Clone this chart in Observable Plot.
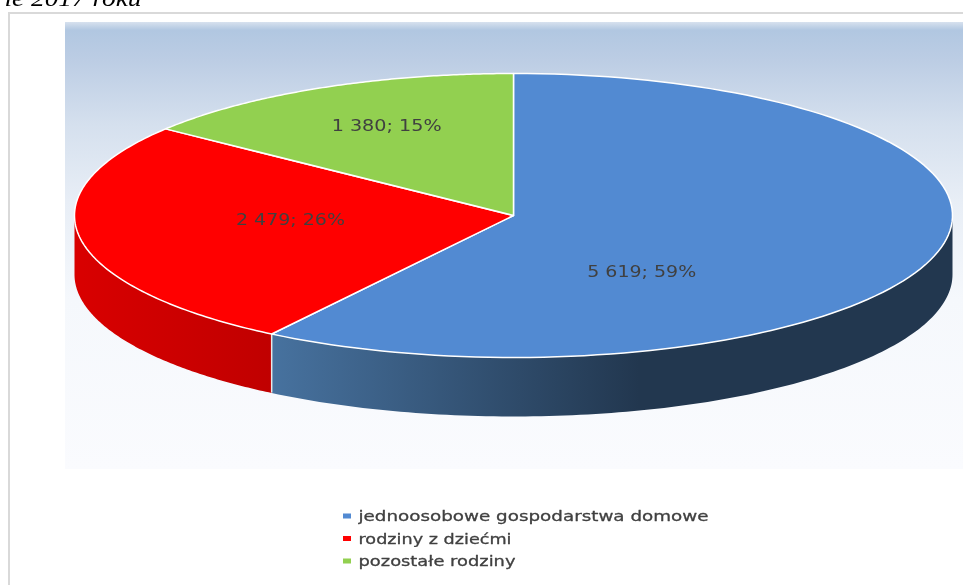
<!DOCTYPE html>
<html lang="pl">
<head>
<meta charset="utf-8">
<script src="https://cdn.jsdelivr.net/npm/d3@7"></script>
<script src="https://cdn.jsdelivr.net/npm/@observablehq/plot@0.6"></script>
<style>
html,body{margin:0;padding:0;background:#fff;overflow:hidden}
svg{display:block}
svg text{filter:blur(.45px)}
</style>
</head>
<body>
<script>
const categories = ["jednoosobowe gospodarstwa domowe", "rodziny z dziećmi", "pozostałe rodziny"];
const values = [5619, 2479, 1380];
const valueLabels = ["5 619; 59%", "2 479; 26%", "1 380; 15%"];
const topColors = ["#528ad2", "#ff0000", "#92d050"];
const heading = "ie 2017 roku";

// Layout (page pixels, used as the domain of the hidden x and y scales)
const W = 963, H = 585;
const pie = {cx: 513, cy: 215, rx: 439, ry: 142, depth: 59};
const labelOffsets = [[0.292, 0.401], [-0.508, 0.035], [-0.289, -0.627]]; // in pie radii
// The reference's text is stretched horizontally: rendered width of each string
const stretched = new Map([
  ["5 619; 59%", 109], ["2 479; 26%", 109], ["1 380; 15%", 110],
  ["jednoosobowe gospodarstwa domowe", 350], ["rodziny z dziećmi", 153], ["pozostałe rodziny", 157],
  ["ie 2017 roku", 137]
]);

const total = d3.sum(values);
let acc = 0;
const slices = values.map((v, i) => {
  const a0 = acc / total * 2 * Math.PI; acc += v;
  return {i, a0, a1: acc / total * 2 * Math.PI};
});
const pt = (a, dy = 0) => ({x: pie.cx + pie.rx * Math.sin(a), y: pie.cy - pie.ry * Math.cos(a) + dy});
const arc = (a0, a1, dy = 0) => d3.range(0, 121).map(k => pt(a0 + (a1 - a0) * k / 120, dy));
const wedge = s => [{x: pie.cx, y: pie.cy}, ...arc(s.a0, s.a1), {x: pie.cx, y: pie.cy}];
const side = s => {
  const a0 = Math.max(s.a0, Math.PI / 2), a1 = Math.min(s.a1, 3 * Math.PI / 2);
  if (a1 <= a0) return null;
  const top = arc(a0, a1);
  return [...top, ...arc(a0, a1, pie.depth).reverse(), top[0]];
};

const gradient = (id, stops, x2 = 1, y2 = 0) => `<linearGradient id="${id}" x1="0" y1="0" x2="${x2}" y2="${y2}">` +
  stops.map(([o, c]) => `<stop offset="${o}" stop-color="${c}"/>`).join("") + `</linearGradient>`;
const defs = () => {
  const g = document.createElementNS("http://www.w3.org/2000/svg", "defs");
  g.innerHTML =
    gradient("bg", [[0, "#d7e1ee"], [0.018, "#b1c7e1"], [0.085, "#bccde4"], [0.23, "#d5e0ee"], [0.40, "#e8eef6"], [0.62, "#f5f8fc"], [1, "#fafbfe"]], 0, 1) +
    gradient("side0", [[0, "#47729f"], [0.54, "#22374f"], [1, "#22374f"]]) +
    gradient("side1", [[0, "#d90000"], [1, "#c00000"]]);
  return g;
};

const legend = categories.map((c, i) => ({c, i, y: 516 + i * 22.5}));

const chart = Plot.plot({
  width: W, height: H, margin: 0,
  x: {domain: [0, W], range: [0, W], axis: null},
  y: {domain: [0, H], range: [0, H], axis: null},
  marks: [
    defs,
    Plot.rect([0], {x1: 65, x2: W, y1: 22, y2: 469, fill: "url(#bg)"}),
    Plot.ruleX([8.5], {y1: 12, y2: H, stroke: "#d9d9d9", strokeWidth: 2}),
    Plot.ruleY([12.5], {x1: 8, x2: W, stroke: "#d9d9d9", strokeWidth: 2}),
    Plot.text([heading], {text: d => d, x: 141, y: 5, textAnchor: "end", lineAnchor: "bottom",
      fontFamily: "Liberation Serif", fontStyle: "italic", fontSize: 24, fill: "#000"}),
    ...slices.filter(s => side(s)).map(s => Plot.line(side(s), {x: "x", y: "y", fill: `url(#side${s.i})`, stroke: "none"})),
    Plot.ruleX([pt(slices[0].a1).x], {y1: pt(slices[0].a1).y, y2: pt(slices[0].a1, pie.depth).y, stroke: "#e8e8e8", strokeWidth: 1.5}),
    ...slices.map(s => Plot.line(wedge(s), {x: "x", y: "y", fill: topColors[s.i], stroke: "#fff", strokeWidth: 1.5, strokeLinejoin: "round"})),
    Plot.text(slices, {
      x: s => pie.cx + labelOffsets[s.i][0] * pie.rx,
      y: s => pie.cy + labelOffsets[s.i][1] * pie.ry,
      text: s => valueLabels[s.i],
      fontFamily: "DejaVu Sans", fontSize: 15.5, fill: "#404040", stroke: "none"
    }),
    Plot.rect(legend, {x1: 343, x2: 351, y1: d => d.y - 2.5, y2: d => d.y + 2.5, fill: d => topColors[d.i]}),
    Plot.text(legend, {x: 358, y: "y", text: "c", textAnchor: "start",
      fontFamily: "DejaVu Sans", fontSize: 14.5, fill: "#404040", stroke: "#404040", strokeWidth: 0.3})
  ]
});
chart.querySelectorAll("text").forEach(t => {
  const w = stretched.get(t.textContent);
  if (w) { t.setAttribute("textLength", w); t.setAttribute("lengthAdjust", "spacingAndGlyphs"); }
});
document.body.appendChild(chart);
</script>
</body>
</html>
